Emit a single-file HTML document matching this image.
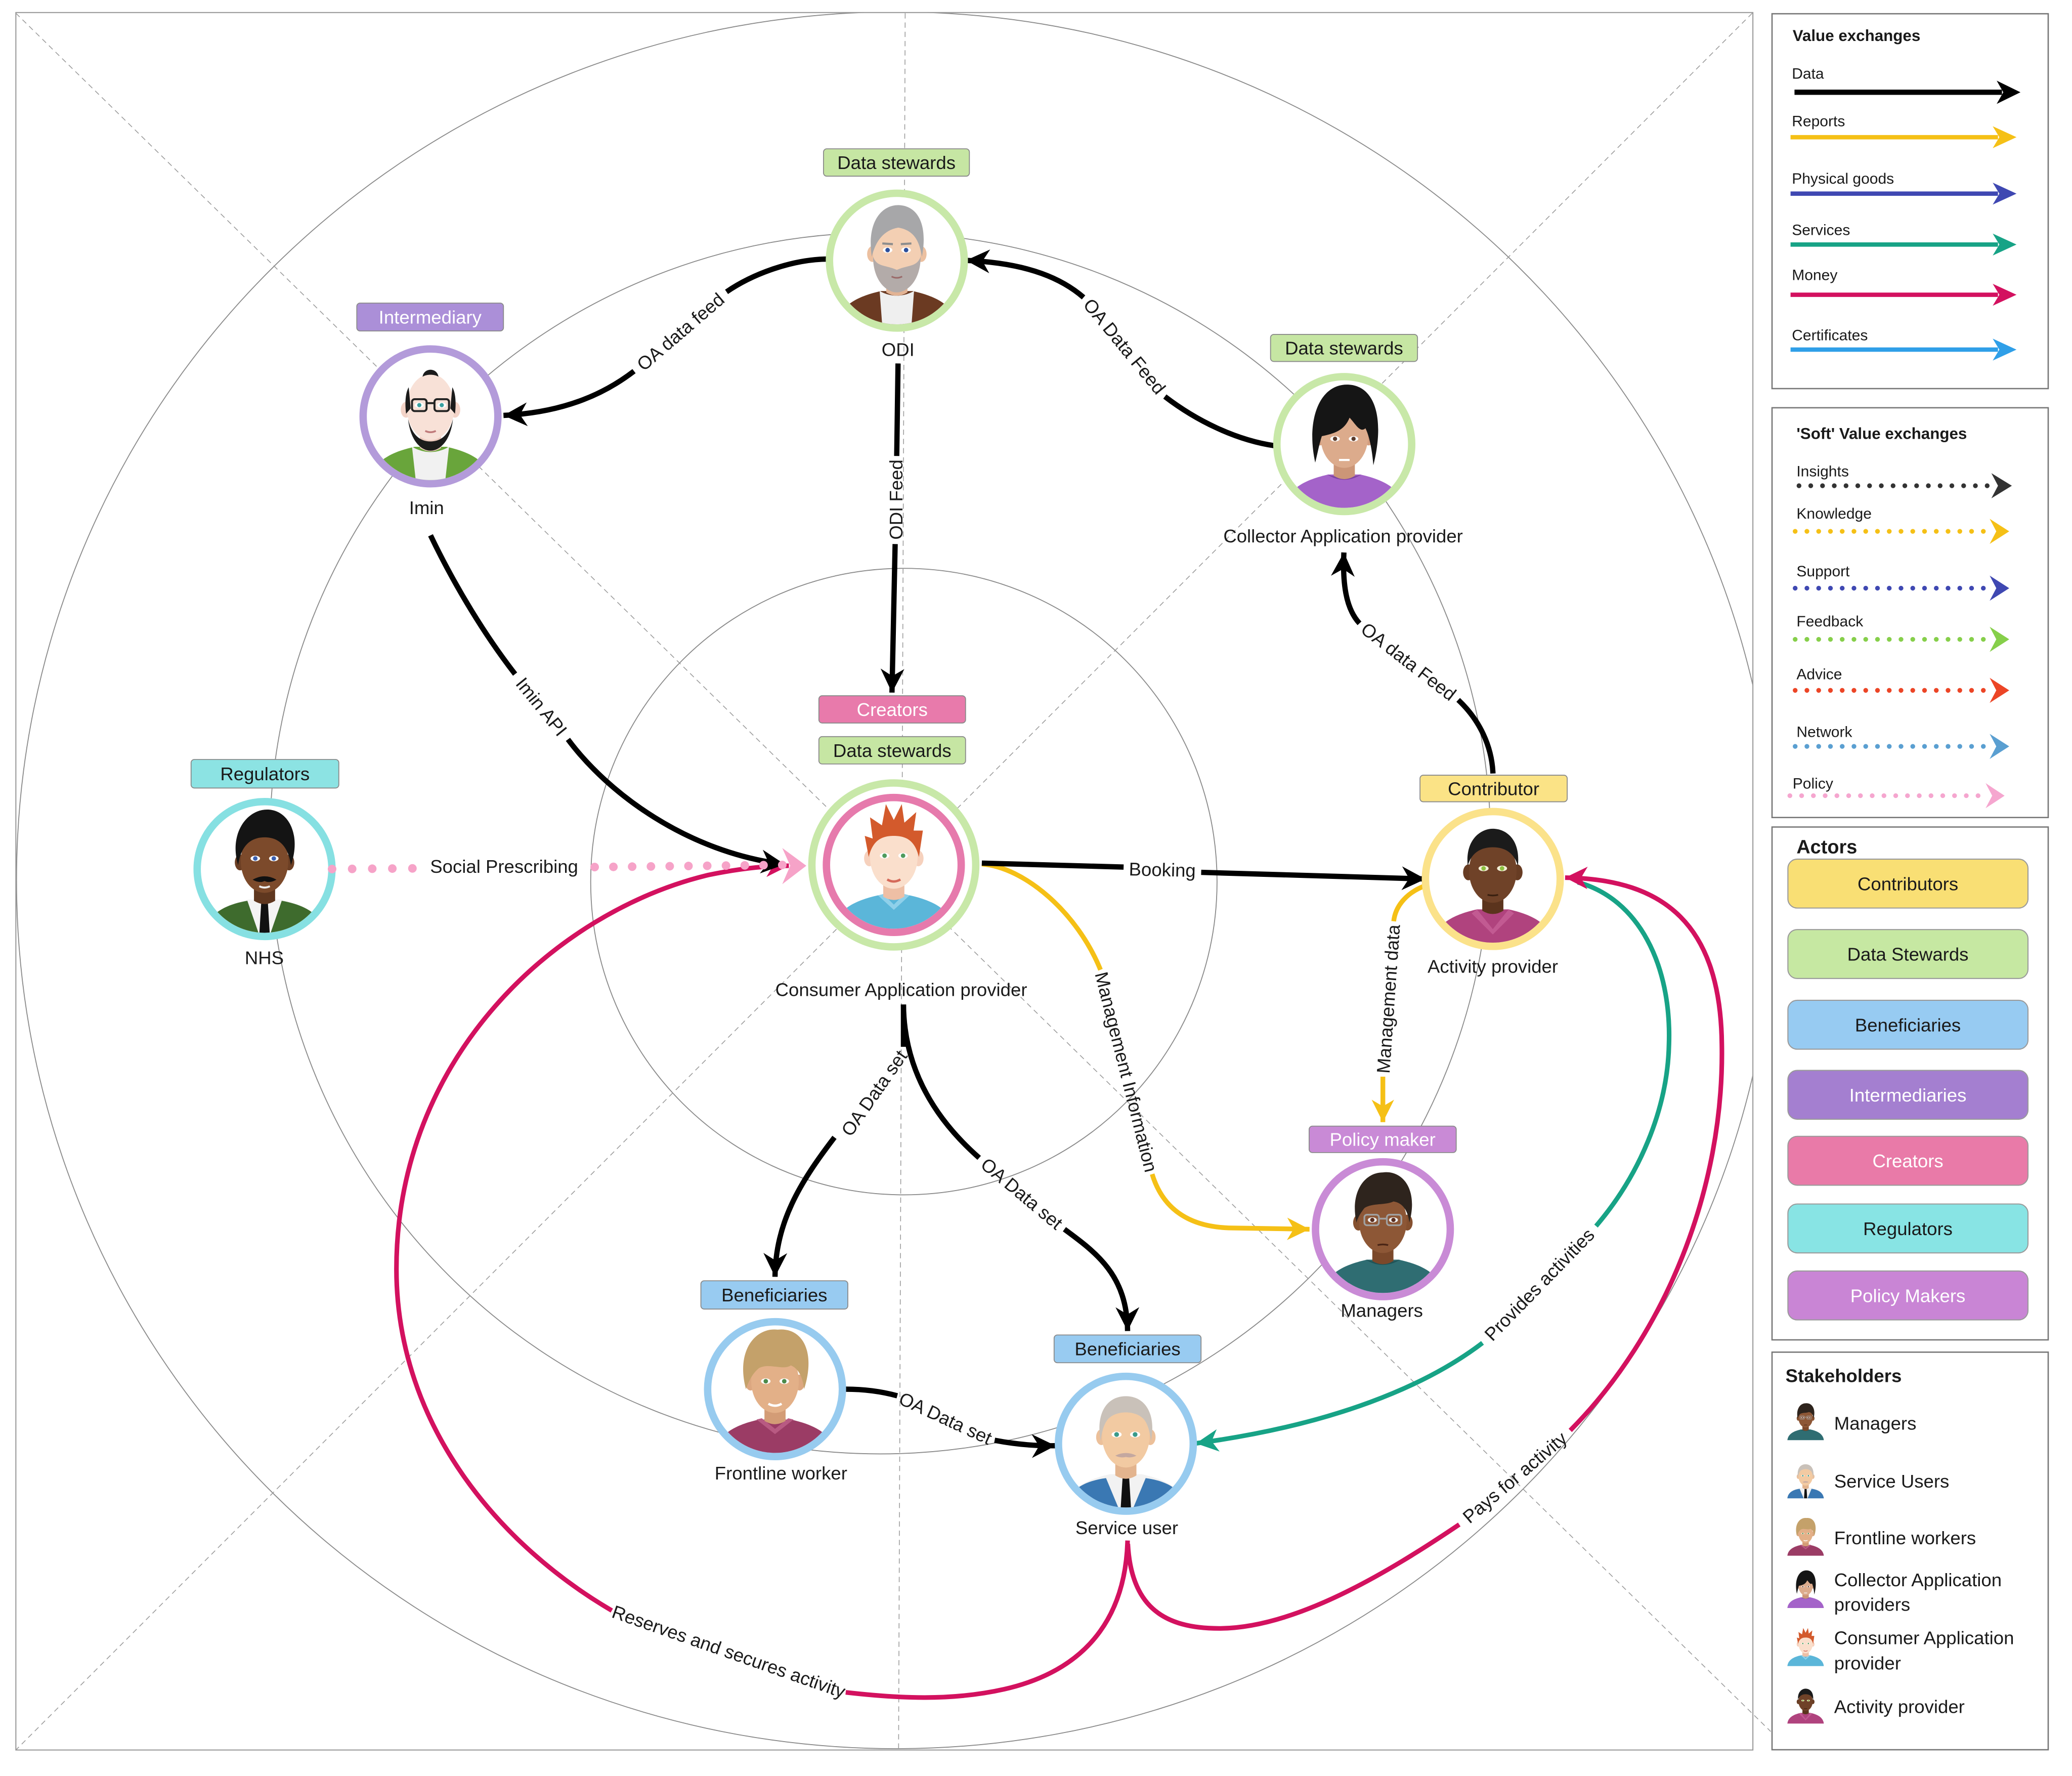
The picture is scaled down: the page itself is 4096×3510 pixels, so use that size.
<!DOCTYPE html>
<html><head><meta charset="utf-8"><style>
html,body{margin:0;padding:0;background:#fff;}
svg{display:block;}
text{font-family:"Liberation Sans",sans-serif;fill:#1a1a1a;}
</style></head><body>
<svg xmlns="http://www.w3.org/2000/svg" width="4096" height="3510" viewBox="0 0 1568 1343.67">
<defs>
<clipPath id="frameclip"><rect x="12" y="9.5" width="1314.5" height="1314.5"/></clipPath>
<clipPath id="cc"><circle cx="0" cy="0" r="48.2"/></clipPath>
<marker id="mk" markerUnits="userSpaceOnUse" viewBox="-20 -11 22 22" markerWidth="22" markerHeight="22" refX="0" refY="0" orient="auto" overflow="visible"><path d="M0,0 L-18,-9 L-12.5,0 L-18,9Z" fill="#000"/></marker>
<marker id="my" markerUnits="userSpaceOnUse" viewBox="-20 -11 22 22" markerWidth="22" markerHeight="22" refX="0" refY="0" orient="auto" overflow="visible"><path d="M0,0 L-17,-8.5 L-12,0 L-17,8.5Z" fill="#f5c016"/></marker>
<marker id="mt" markerUnits="userSpaceOnUse" viewBox="-20 -11 22 22" markerWidth="22" markerHeight="22" refX="0" refY="0" orient="auto" overflow="visible"><path d="M0,0 L-17,-8.5 L-12,0 L-17,8.5Z" fill="#17a386"/></marker>
<marker id="mc" markerUnits="userSpaceOnUse" viewBox="-20 -11 22 22" markerWidth="22" markerHeight="22" refX="0" refY="0" orient="auto" overflow="visible"><path d="M0,0 L-17,-8.5 L-12,0 L-17,8.5Z" fill="#d3115f"/></marker>

<g id="a1">
<path d="M-46,50 C-44,34 -30,27 -12,23 L12,23 C30,27 44,34 46,50Z" fill="#6b3a22"/>
<path d="M-13,23 Q0,30 13,23 L11,50 L-11,50Z" fill="#efefef"/>
<path d="M-8,8 L-8,24 Q0,29 8,24 L8,8Z" fill="#e2b394"/>
<ellipse cx="-18.5" cy="-5" rx="4" ry="6" fill="#ecc0a0"/><ellipse cx="18.5" cy="-5" rx="4" ry="6" fill="#ecc0a0"/>
<ellipse cx="0" cy="-6" rx="18" ry="24" fill="#f3cfb3"/>
<path d="M-19,-3 C-23,-30 -11,-42 1,-42 C14,-42 24,-30 19,-3 C17,-15 13,-23 1,-25 C-10,-23 -16,-15 -19,-3Z" fill="#a7a7a9"/>
<path d="M-18,-3 C-18,15 -8,24 0,24 C8,24 18,15 18,-3 C15,5 9,3 0,7 C-9,3 -15,5 -18,-3Z" fill="#b3aba9"/>
<ellipse cx="-7" cy="-8" rx="3.6" ry="2.1" fill="#fff"/><ellipse cx="7" cy="-8" rx="3.6" ry="2.1" fill="#fff"/>
<circle cx="-7" cy="-8" r="1.7" fill="#2c4f9c"/><circle cx="7" cy="-8" r="1.7" fill="#2c4f9c"/>
<path d="M-11,-13 L-3,-12.5 M3,-12.5 L11,-13" stroke="#8d8d8d" stroke-width="1.6"/>
<path d="M-4,12 Q0,14 4,12" stroke="#9a6a6a" stroke-width="1.2" fill="none"/>
</g>

<g id="a2">
<path d="M-46,50 C-44,34 -30,27 -12,23 L12,23 C30,27 44,34 46,50Z" fill="#69a53b"/>
<path d="M-14,23 Q0,31 14,23 L11,50 L-11,50Z" fill="#f1f1f1"/>
<path d="M-8,8 L-8,24 Q0,29 8,24 L8,8Z" fill="#ecc9bd"/>
<ellipse cx="-18.5" cy="-5" rx="4" ry="6" fill="#f3d3c7"/><ellipse cx="18.5" cy="-5" rx="4" ry="6" fill="#f3d3c7"/>
<ellipse cx="0" cy="-7" rx="18" ry="25" fill="#f8e1d7"/>
<path d="M-18.5,-2 C-19.5,-10 -19,-18 -16.5,-22 L-15,-6Z M18.5,-2 C19.5,-10 19,-18 16.5,-22 L15,-6Z" fill="#1b1b1b"/>
<path d="M-6,-30 C-5,-37 5,-37 6,-30 C3,-32 -3,-32 -6,-30Z" fill="#1b1b1b"/>
<path d="M-17,2 C-15,20 -6,26 0,26 C6,26 15,20 17,2 C14,14 8,19 0,19 C-8,19 -14,14 -17,2Z" fill="#1b1b1b"/>
<ellipse cx="-8.5" cy="-8.5" rx="3.4" ry="2" fill="#fff"/><ellipse cx="8.5" cy="-8.5" rx="3.4" ry="2" fill="#fff"/>
<circle cx="-8.5" cy="-8.5" r="1.6" fill="#3aa0a0"/><circle cx="8.5" cy="-8.5" r="1.6" fill="#3aa0a0"/>
<g fill="none" stroke="#222" stroke-width="1.5"><rect x="-14" y="-13" width="11" height="9" rx="2"/><rect x="3" y="-13" width="11" height="9" rx="2"/><path d="M-3,-10 L3,-10"/></g>
<path d="M-4,11 Q0,13 4,11" stroke="#c07a7a" stroke-width="1.4" fill="none"/>
</g>

<g id="a3">
<path d="M-46,50 C-44,34 -30,27 -12,23 L12,23 C30,27 44,34 46,50Z" fill="#f4f4f4"/>
<path d="M-46,50 C-44,34 -30,27 -13,24 L-4,50Z M46,50 C44,34 30,27 13,24 L4,50Z" fill="#3e6b2d"/>
<path d="M-2.5,25 L2.5,25 L4,50 L-4,50Z" fill="#111"/>
<path d="M-8,8 L-8,24 Q0,29 8,24 L8,8Z" fill="#5f371f"/>
<ellipse cx="-18.5" cy="-5" rx="4" ry="6" fill="#6c3f24"/><ellipse cx="18.5" cy="-5" rx="4" ry="6" fill="#6c3f24"/>
<ellipse cx="0" cy="-6" rx="18" ry="24" fill="#7c4a2b"/>
<path d="M-20,-3 C-27,-26 -14,-45 2,-45 C18,-45 28,-26 20,-3 C18,-16 12,-24 0,-24 C-12,-24 -18,-16 -20,-3Z" fill="#141414"/>
<ellipse cx="-7" cy="-8" rx="3.6" ry="2.1" fill="#fff"/><ellipse cx="7" cy="-8" rx="3.6" ry="2.1" fill="#fff"/>
<circle cx="-7" cy="-8" r="1.7" fill="#3a5fb0"/><circle cx="7" cy="-8" r="1.7" fill="#3a5fb0"/>
<path d="M-9,8 Q0,3 9,8 Q4,11 0,9 Q-4,11 -9,8Z" fill="#111"/>
<path d="M-4,13 Q0,15 4,13" stroke="#eee" stroke-width="1.5" fill="none"/>
</g>

<g id="a4">
<path d="M-46,50 C-44,34 -30,27 -12,23 L12,23 C30,27 44,34 46,50Z" fill="#5bb6d9"/>
<path d="M-12,23 L0,34 L12,23 L8,22 L0,30 L-8,22Z" fill="#8fd0ea"/>
<path d="M-8,8 L-8,24 Q0,29 8,24 L8,8Z" fill="#eebfa5"/>
<ellipse cx="-18.5" cy="-5" rx="4" ry="6" fill="#f6d1bd"/><ellipse cx="18.5" cy="-5" rx="4" ry="6" fill="#f6d1bd"/>
<ellipse cx="0" cy="-6" rx="18" ry="24" fill="#fadfcc"/>
<path d="M-19,-6 L-22,-22 L-16,-20 L-18,-36 L-9,-30 L-6,-46 L0,-34 L6,-46 L8,-32 L17,-40 L15,-26 L22,-26 L19,-6 C16,-18 10,-22 0,-22 C-10,-22 -16,-18 -19,-6Z" fill="#d35a2c"/>
<ellipse cx="-7" cy="-7" rx="3.6" ry="2.1" fill="#fff"/><ellipse cx="7" cy="-7" rx="3.6" ry="2.1" fill="#fff"/>
<circle cx="-7" cy="-7" r="1.7" fill="#4f9b5d"/><circle cx="7" cy="-7" r="1.7" fill="#4f9b5d"/>
<path d="M-5,11 Q0,14 5,11" stroke="#d56a5a" stroke-width="1.8" fill="none"/>
</g>

<g id="a5">
<path d="M-46,50 C-44,34 -30,27 -12,23 L12,23 C30,27 44,34 46,50Z" fill="#a463c9"/>
<path d="M-13,23 Q0,31 13,23 Q0,27 -13,23Z" fill="#7e45a3"/>
<path d="M-8,8 L-8,24 Q0,29 8,24 L8,8Z" fill="#cc9677"/>
<ellipse cx="-18.5" cy="-5" rx="4" ry="6" fill="#d49f80"/><ellipse cx="18.5" cy="-5" rx="4" ry="6" fill="#d49f80"/>
<ellipse cx="0" cy="-6" rx="18" ry="24" fill="#dcab8c"/>
<path d="M-22,14 C-29,-18 -19,-45 2,-45 C23,-45 31,-20 22,16 C21,4 19,-6 16,-12 C12,-8 8,-16 4,-20 C0,-10 -8,-8 -17,-6 C-19,0 -20,6 -22,14Z" fill="#151515"/>
<ellipse cx="-7" cy="-4" rx="3.6" ry="2" fill="#fff"/><ellipse cx="7" cy="-4" rx="3.6" ry="2" fill="#fff"/>
<circle cx="-7" cy="-4" r="1.6" fill="#5a3a2a"/><circle cx="7" cy="-4" r="1.6" fill="#5a3a2a"/>
<path d="M-4,12 L4,12" stroke="#fff" stroke-width="1.6"/>
</g>

<g id="a6">
<path d="M-46,50 C-44,34 -30,27 -12,23 L12,23 C30,27 44,34 46,50Z" fill="#b0437e"/>
<path d="M-12,23 L0,38 L12,23 L16,26 L0,42 L-16,26Z" fill="#c25a92"/>
<path d="M-8,8 L-8,24 Q0,29 8,24 L8,8Z" fill="#5b341d"/>
<ellipse cx="-18.5" cy="-5" rx="4" ry="6" fill="#673c23"/><ellipse cx="18.5" cy="-5" rx="4" ry="6" fill="#673c23"/>
<ellipse cx="0" cy="-6" rx="18" ry="24" fill="#6f4228"/>
<path d="M-19,-10 C-21,-30 -9,-38 0,-38 C10,-38 21,-30 19,-10 C16,-20 9,-24 0,-24 C-9,-24 -16,-20 -19,-10Z" fill="#1b1b1b"/>
<ellipse cx="-7" cy="-8" rx="3.8" ry="2.1" fill="#f4f0d8"/><ellipse cx="7" cy="-8" rx="3.8" ry="2.1" fill="#f4f0d8"/>
<circle cx="-7" cy="-8" r="1.7" fill="#8cc040"/><circle cx="7" cy="-8" r="1.7" fill="#8cc040"/>
<path d="M-4,12 Q0,13 4,12" stroke="#3a2010" stroke-width="1.3" fill="none"/>
</g>

<g id="a7">
<path d="M-46,50 C-44,34 -30,27 -12,23 L12,23 C30,27 44,34 46,50Z" fill="#2f6d72"/>
<path d="M-13,23 Q0,31 13,23 Q0,27 -13,23Z" fill="#1f5256"/>
<path d="M-8,8 L-8,24 Q0,29 8,24 L8,8Z" fill="#7b482a"/>
<ellipse cx="-18.5" cy="-5" rx="4" ry="6" fill="#85502f"/><ellipse cx="18.5" cy="-5" rx="4" ry="6" fill="#85502f"/>
<ellipse cx="0" cy="-6" rx="18" ry="24" fill="#8d5736"/>
<path d="M-20,-5 C-25,-28 -14,-43 0,-43 C15,-45 27,-30 20,-5 C19,-14 15,-20 8,-21 C2,-18 -8,-20 -14,-16 C-17,-12 -19,-9 -20,-5Z" fill="#2e241d"/>
<ellipse cx="-8" cy="-7" rx="3.4" ry="2" fill="#eee"/><ellipse cx="8" cy="-7" rx="3.4" ry="2" fill="#eee"/>
<circle cx="-8" cy="-7" r="1.6" fill="#5a2e20"/><circle cx="8" cy="-7" r="1.6" fill="#5a2e20"/>
<g fill="none" stroke="#a0a0a0" stroke-width="1.3"><rect x="-14" y="-11" width="11" height="8" rx="2"/><rect x="3" y="-11" width="11" height="8" rx="2"/><path d="M-3,-8 L3,-8"/></g>
<path d="M-4,12 Q0,11 4,12" stroke="#4a2515" stroke-width="1.3" fill="none"/>
</g>

<g id="a8">
<path d="M-46,50 C-44,34 -30,27 -12,23 L12,23 C30,27 44,34 46,50Z" fill="#9b3c65"/>
<path d="M-14,23 L0,34 L14,23 L10,22 L0,30 L-10,22Z" fill="#b85a82"/>
<path d="M-8,8 L-8,24 Q0,29 8,24 L8,8Z" fill="#d39c76"/>
<ellipse cx="-18.5" cy="-5" rx="4" ry="6" fill="#dca780"/><ellipse cx="18.5" cy="-5" rx="4" ry="6" fill="#dca780"/>
<ellipse cx="0" cy="-6" rx="18" ry="24" fill="#e3b088"/>
<path d="M-22,0 C-30,-30 -14,-47 2,-45 C21,-47 31,-28 22,0 C21,-10 17,-16 12,-18 C6,-14 -4,-20 -12,-16 C-17,-12 -20,-6 -22,0Z" fill="#c4a16a"/>
<ellipse cx="-7" cy="-6" rx="3.6" ry="2.1" fill="#fff"/><ellipse cx="7" cy="-6" rx="3.6" ry="2.1" fill="#fff"/>
<circle cx="-7" cy="-6" r="1.7" fill="#4d8a4a"/><circle cx="7" cy="-6" r="1.7" fill="#4d8a4a"/>
<path d="M-5,11 Q0,14 5,11" stroke="#fff" stroke-width="1.8" fill="none"/>
</g>

<g id="a9">
<path d="M-46,50 C-44,34 -30,27 -12,23 L12,23 C30,27 44,34 46,50Z" fill="#f2f2f2"/>
<path d="M-46,50 C-44,34 -30,28 -15,26 L-5,50Z M46,50 C44,34 30,28 15,26 L5,50Z" fill="#3a78b3"/>
<path d="M-2.5,26 L2.5,26 L4,50 L-4,50Z" fill="#111"/>
<path d="M-8,8 L-8,24 Q0,29 8,24 L8,8Z" fill="#e3b48e"/>
<ellipse cx="-18.5" cy="-5" rx="4" ry="6" fill="#ecc09a"/><ellipse cx="18.5" cy="-5" rx="4" ry="6" fill="#ecc09a"/>
<ellipse cx="0" cy="-6" rx="18" ry="24" fill="#f2caa2"/>
<path d="M-19,-2 C-23,-22 -15,-36 0,-36 C15,-36 23,-22 19,-2 C18,-12 15,-18 12,-20 C6,-25 -6,-25 -12,-20 C-15,-18 -18,-12 -19,-2Z" fill="#c9c1b9"/>
<ellipse cx="-7" cy="-7" rx="3.8" ry="2.2" fill="#fff"/><ellipse cx="7" cy="-7" rx="3.8" ry="2.2" fill="#fff"/>
<circle cx="-7" cy="-7" r="1.8" fill="#3a9a8a"/><circle cx="7" cy="-7" r="1.8" fill="#3a9a8a"/>
<path d="M-8,9 Q0,5 8,9 Q4,11 0,10 Q-4,11 -8,9Z" fill="#c4a8a0"/>
</g>
</defs>

<!-- background structure -->
<g fill="none" stroke="#8a8a8a" stroke-width="0.7">
<ellipse cx="678" cy="666" rx="665.5" ry="657" clip-path="url(#frameclip)"/>
<circle cx="666" cy="638" r="462"/>
<circle cx="684" cy="667" r="237"/>
</g>
<g stroke="#9a9a9a" stroke-width="0.6" stroke-dasharray="4 3" fill="none">
<line x1="12" y1="10" x2="1340" y2="1310"/>
<line x1="1326" y1="10" x2="12" y2="1324"/>
<line x1="685" y1="10" x2="680" y2="1324"/>
</g>
<rect x="12" y="9.5" width="1314.5" height="1314.5" fill="none" stroke="#999" stroke-width="0.8"/>

<!-- connectors -->
<g fill="none" stroke-linecap="butt">
<g stroke="#f5c016" stroke-width="3.6">
<path d="M743,653.7 C775,656 815,690 832.8,733.7"/>
<path d="M871.9,888.3 C880,915 900,928 930,929 L991,930" marker-end="url(#my)"/>
<path d="M1078.8,670 C1065,675 1056,685 1054.7,697"/>
<path d="M1046.5,814.6 L1046.5,849" marker-end="url(#my)"/>
</g>
<g stroke="#17a386" stroke-width="3.5">
<path d="M1194,667.5 C1240,680 1265,730 1263,790 C1262,840 1240,890 1207.8,927.6"/>
<path d="M1121.9,1016 C1080,1048 1010,1078 905,1092" marker-end="url(#mt)"/>
</g>
<g stroke="#d3115f" stroke-width="3.5">
<path d="M853.3,1165.5 C852,1215 830,1262 760,1278 C720,1287 680,1285 640,1280.4"/>
<path d="M463,1218.5 C380,1170 300,1080 300,960 C300,800 420,690 536,662 C560,657 580,655 597,655" marker-end="url(#mc)"/>
<path d="M853.5,1168 C856,1215 880,1232 922.6,1232 C980,1232 1050,1190 1104.3,1153.4"/>
<path d="M1188.3,1082.2 C1260,1010 1305,900 1303,790 C1302,700 1260,665 1184.4,664" marker-end="url(#mc)"/>
</g>
<g stroke="#000" stroke-width="4">
<path d="M627,196 C600,196 570,207 549.8,220.8"/>
<path d="M479.8,280.8 C460,296 430,312 381,314.3" marker-end="url(#mk)"/>
<path d="M965,337.3 C935,333 905,318 881.5,300"/>
<path d="M820,225 C805,212 780,199 731,197" marker-end="url(#mk)"/>
<path d="M679.6,275 L678.6,345"/>
<path d="M677.4,411.6 L675,524" marker-end="url(#mk)"/>
<path d="M325.8,405 C345,445 368,482 389.8,510"/>
<path d="M429.8,559.4 C460,600 520,645 594,654" marker-end="url(#mk)"/>
<path d="M743,653 L850.3,656"/>
<path d="M909,660 L1078.8,665" marker-end="url(#mk)"/>
<path d="M683.7,760 L683.7,792"/>
<path d="M631.5,860.5 C605,895 587,925 586.5,966" marker-end="url(#mk)"/>
<path d="M683.7,760 C684,800 700,840 741,876"/>
<path d="M805.5,930 C830,948 853,965 853.3,1007" marker-end="url(#mk)"/>
<path d="M640,1051 C655,1051 668,1053 679,1056"/>
<path d="M752.7,1089.7 C770,1093 785,1094 798.8,1093.8" marker-end="url(#mk)"/>
<path d="M1129.8,585.2 C1129,565 1120,545 1103.5,529.5"/>
<path d="M1028.8,471.6 C1018,460 1016,440 1017,418" marker-end="url(#mk)"/>
</g>
</g>

<!-- connector labels -->
<g font-size="14" text-anchor="middle">
<text transform="translate(515,251) rotate(-40.6)" dy="0.35em">OA data feed</text>
<text transform="translate(851,262) rotate(50.6)" dy="0.35em">OA Data Feed</text>
<text transform="translate(678,378) rotate(-90)" dy="0.35em">ODI Feed</text>
<text transform="translate(409.8,534.7) rotate(51)" dy="0.35em">Imin API</text>
<text x="381.5" y="655.4" dy="0.35em">Social Prescribing</text>
<text transform="translate(551.5,1249.5) rotate(19.3)" dy="0.35em">Reserves and secures activity</text>
<text transform="translate(1146.3,1117.8) rotate(-40.3)" dy="0.35em">Pays for activity</text>
<text transform="translate(1164.9,971.8) rotate(-45.8)" dy="0.35em">Provides activities</text>
<text transform="translate(879.6,658) rotate(1.3)" dy="0.35em">Booking</text>
<text transform="translate(852.3,811) rotate(75.8)" dy="0.35em">Management Information</text>
<text transform="translate(1050.6,755.8) rotate(-86)" dy="0.35em">Management data</text>
<text transform="translate(661.5,827) rotate(-55)" dy="0.35em">OA Data set</text>
<text transform="translate(773.3,903) rotate(39.9)" dy="0.35em">OA Data set</text>
<text transform="translate(715.5,1073) rotate(24.8)" dy="0.35em">OA Data set</text>
<text transform="translate(1066,500.5) rotate(37.8)" dy="0.35em">OA data Feed</text>
</g>

<!-- nodes -->
<g stroke-width="5.6">
<circle cx="678.7" cy="197.2" r="51" fill="#fff" stroke="#c8e8a8"/>
<circle cx="325.8" cy="315" r="51" fill="#fff" stroke="#b39bda"/>
<circle cx="200.2" cy="657.5" r="51" fill="#fff" stroke="#86e0e2"/>
<circle cx="676.4" cy="654.4" r="62" fill="#fff" stroke="#c8e8a8"/>
<circle cx="676.4" cy="654.4" r="51" fill="#fff" stroke="#e67aac"/>
<circle cx="1017.3" cy="336" r="51" fill="#fff" stroke="#c8e8a8"/>
<circle cx="1129.7" cy="665" r="51" fill="#fff" stroke="#fbe28a"/>
<circle cx="1046.5" cy="930" r="51" fill="#fff" stroke="#c98bd6"/>
<circle cx="586.5" cy="1051" r="51" fill="#fff" stroke="#97cbef"/>
<circle cx="852" cy="1092.3" r="51" fill="#fff" stroke="#97cbef"/>
</g>
<g transform="translate(678.7,197.2)" clip-path="url(#cc)"><use href="#a1"/></g>
<g transform="translate(325.8,315)" clip-path="url(#cc)"><use href="#a2"/></g>
<g transform="translate(200.2,657.5)" clip-path="url(#cc)"><use href="#a3"/></g>
<g transform="translate(676.4,654.4)" clip-path="url(#cc)"><use href="#a4"/></g>
<g transform="translate(1017.3,336)" clip-path="url(#cc)"><use href="#a5"/></g>
<g transform="translate(1129.7,665)" clip-path="url(#cc)"><use href="#a6"/></g>
<g transform="translate(1046.5,930)" clip-path="url(#cc)"><use href="#a7"/></g>
<g transform="translate(586.5,1051)" clip-path="url(#cc)"><use href="#a8"/></g>
<g transform="translate(852,1092.3)" clip-path="url(#cc)"><use href="#a9"/></g>

<!-- pink dotted social prescribing (on top) -->
<g stroke="#f6a3c8" stroke-width="6.5" stroke-linecap="round" fill="none">
<path d="M251.3,657.5 L313,657" stroke-dasharray="0 15.2"/>
<path d="M450,656 L592,654.4" stroke-dasharray="0 14.2"/>
</g>
<polygon points="592,641.6 610.2,655 592,668.9 598,655" fill="#f6a3c8"/>

<!-- node label boxes -->
<g stroke="#8a8a8a" stroke-width="0.7">
<rect x="623.2" y="112.6" width="110.4" height="20.7" rx="2.5" fill="#c6e6a3"/>
<rect x="270" y="229.3" width="111" height="21.1" rx="2.5" fill="#ab8fd8"/>
<rect x="144.6" y="574.6" width="111.8" height="21.6" rx="2.5" fill="#8ce3e3"/>
<rect x="619.7" y="526.4" width="111" height="20.6" rx="2.5" fill="#e87aab"/>
<rect x="619.7" y="557.3" width="111" height="20.7" rx="2.5" fill="#c6e6a3"/>
<rect x="961.5" y="253" width="111.2" height="20.5" rx="2.5" fill="#c6e6a3"/>
<rect x="1074.6" y="586.5" width="111.4" height="20.1" rx="2.5" fill="#fbe386"/>
<rect x="990.7" y="852" width="111.3" height="20" rx="2.5" fill="#c98ad6"/>
<rect x="530.4" y="969" width="111.2" height="21.4" rx="2.5" fill="#98cbf1"/>
<rect x="797.7" y="1010" width="111.2" height="21" rx="2.5" fill="#98cbf1"/>
</g>
<g font-size="14" text-anchor="middle">
<text x="678.4" y="123" dy="0.35em">Data stewards</text>
<text x="325.5" y="239.9" dy="0.35em" style="fill:#fff">Intermediary</text>
<text x="200.5" y="585.4" dy="0.35em">Regulators</text>
<text x="675.2" y="536.7" dy="0.35em" style="fill:#fff">Creators</text>
<text x="675.2" y="567.7" dy="0.35em">Data stewards</text>
<text x="1017.1" y="263.3" dy="0.35em">Data stewards</text>
<text x="1130.3" y="596.6" dy="0.35em">Contributor</text>
<text x="1046.3" y="862" dy="0.35em" style="fill:#fff">Policy maker</text>
<text x="586" y="979.7" dy="0.35em">Beneficiaries</text>
<text x="853.3" y="1020.5" dy="0.35em">Beneficiaries</text>

<text x="679.6" y="264.5" dy="0.35em">ODI</text>
<text x="322.8" y="384" dy="0.35em">Imin</text>
<text x="200" y="724.5" dy="0.35em">NHS</text>
<text x="682" y="748.7" dy="0.35em">Consumer Application provider</text>
<text x="1016.4" y="405.5" dy="0.35em">Collector Application provider</text>
<text x="1129.7" y="731" dy="0.35em">Activity provider</text>
<text x="1045.7" y="991.4" dy="0.35em">Managers</text>
<text x="591" y="1114.4" dy="0.35em">Frontline worker</text>
<text x="852.7" y="1155.7" dy="0.35em">Service user</text>
</g>

<!-- LEGEND -->
<g fill="#fff" stroke="#777" stroke-width="1">
<rect x="1341" y="10.4" width="209" height="283.6"/>
<rect x="1341" y="308.5" width="209" height="310"/>
<rect x="1341" y="625.7" width="209" height="388"/>
<rect x="1341" y="1023" width="209" height="300.8"/>
</g>

<text x="1356.6" y="31" font-size="12" font-weight="bold">Value exchanges</text>
<g font-size="11.5">
<text x="1356" y="59.5">Data</text>
<text x="1356" y="95.5">Reports</text>
<text x="1356" y="139">Physical goods</text>
<text x="1356" y="177.8">Services</text>
<text x="1356" y="211.8">Money</text>
<text x="1356" y="257.5">Certificates</text>
</g>
<line x1="1358" y1="69.8" x2="1515" y2="69.8" stroke="#000" stroke-width="4"/>
<polygon points="1529,69.8 1511,61 1516,69.8 1511,78.6" fill="#000"/>
<line x1="1355" y1="103.8" x2="1512" y2="103.8" stroke="#f5c016" stroke-width="3.3"/>
<polygon points="1526,103.8 1508,95.5 1513,103.8 1508,112.1" fill="#f5c016"/>
<line x1="1355" y1="146.5" x2="1512" y2="146.5" stroke="#3f48b2" stroke-width="3.3"/>
<polygon points="1526,146.5 1508,138.2 1513,146.5 1508,154.8" fill="#3f48b2"/>
<line x1="1355" y1="185" x2="1512" y2="185" stroke="#17a386" stroke-width="3.3"/>
<polygon points="1526,185 1508,176.7 1513,185 1508,193.3" fill="#17a386"/>
<line x1="1355" y1="223" x2="1512" y2="223" stroke="#d3115f" stroke-width="3.3"/>
<polygon points="1526,223 1508,214.7 1513,223 1508,231.3" fill="#d3115f"/>
<line x1="1355" y1="264.5" x2="1512" y2="264.5" stroke="#2f9fe8" stroke-width="3.3"/>
<polygon points="1526,264.5 1508,256.2 1513,264.5 1508,272.8" fill="#2f9fe8"/>

<text x="1359.5" y="332" font-size="12" font-weight="bold">'Soft' Value exchanges</text>
<g font-size="11.5">
<text x="1359.5" y="360.4">Insights</text>
<text x="1359.5" y="392.4">Knowledge</text>
<text x="1359.5" y="436">Support</text>
<text x="1359.5" y="474">Feedback</text>
<text x="1359.5" y="514">Advice</text>
<text x="1359.5" y="557.6">Network</text>
<text x="1356.6" y="596.7">Policy</text>
</g>
<g stroke-width="3.6" stroke-linecap="round" stroke-dasharray="0 8.9">
<line x1="1361.4" y1="367.5" x2="1505" y2="367.5" stroke="#333"/>
<line x1="1358.5" y1="402" x2="1503" y2="402" stroke="#f5c016"/>
<line x1="1358.5" y1="445" x2="1503" y2="445" stroke="#3f48b2"/>
<line x1="1358.5" y1="483.7" x2="1503" y2="483.7" stroke="#86cf4a"/>
<line x1="1358.5" y1="522.3" x2="1503" y2="522.3" stroke="#ec4526"/>
<line x1="1358.5" y1="564.7" x2="1503" y2="564.7" stroke="#5a9fd1"/>
<line x1="1354.5" y1="602" x2="1500" y2="602" stroke="#f5a6cf"/>
</g>
<polygon points="1507,358 1522.5,367.5 1507,377 1512,367.5" fill="#333"/>
<polygon points="1505.7,392.5 1520.5,402 1505.7,411.5 1510.7,402" fill="#f5c016"/>
<polygon points="1505.7,435.5 1520.5,445 1505.7,454.5 1510.7,445" fill="#3f48b2"/>
<polygon points="1505.7,474.2 1520.5,483.7 1505.7,493.2 1510.7,483.7" fill="#86cf4a"/>
<polygon points="1505.7,512.8 1520.5,522.3 1505.7,531.8 1510.7,522.3" fill="#ec4526"/>
<polygon points="1505.7,555.2 1520.5,564.7 1505.7,574.2 1510.7,564.7" fill="#5a9fd1"/>
<polygon points="1502.6,592.5 1517,602 1502.6,611.5 1507.6,602" fill="#f5a6cf"/>

<text x="1359.5" y="645.6" font-size="14.5" font-weight="bold">Actors</text>
<g stroke="#9a9a9a" stroke-width="0.8">
<rect x="1353" y="650" width="181.7" height="37" rx="7" fill="#f9df74"/>
<rect x="1353" y="703.3" width="181.7" height="37" rx="7" fill="#c6e8a2"/>
<rect x="1353" y="756.8" width="181.7" height="37" rx="7" fill="#97cbf2"/>
<rect x="1353" y="809.8" width="181.7" height="37" rx="7" fill="#a47fd0"/>
<rect x="1353" y="859.7" width="181.7" height="37" rx="7" fill="#e97aa8"/>
<rect x="1353" y="910.9" width="181.7" height="37" rx="7" fill="#88e4e4"/>
<rect x="1353" y="961.6" width="181.7" height="37" rx="7" fill="#c985d5"/>
</g>
<g font-size="14" text-anchor="middle">
<text x="1443.8" y="673.5">Contributors</text>
<text x="1443.8" y="726.8">Data Stewards</text>
<text x="1443.8" y="780.3">Beneficiaries</text>
<text x="1443.8" y="833.3" style="fill:#fff">Intermediaries</text>
<text x="1443.8" y="883.2" style="fill:#fff">Creators</text>
<text x="1443.8" y="934.4">Regulators</text>
<text x="1443.8" y="985.1" style="fill:#fff">Policy Makers</text>
</g>

<text x="1351.2" y="1045.6" font-size="14" font-weight="bold">Stakeholders</text>
<use href="#a7" transform="translate(1366.4,1074.6) scale(0.3)"/>
<use href="#a9" transform="translate(1366.4,1118.6) scale(0.3)"/>
<use href="#a8" transform="translate(1366.4,1162) scale(0.3)"/>
<use href="#a5" transform="translate(1366.4,1201.6) scale(0.3)"/>
<use href="#a4" transform="translate(1366.4,1245.5) scale(0.3)"/>
<use href="#a6" transform="translate(1366.4,1289) scale(0.3)"/>
<g font-size="14">
<text x="1388" y="1081.6">Managers</text>
<text x="1388" y="1125.5">Service Users</text>
<text x="1388" y="1168.4">Frontline workers</text>
<text x="1388" y="1200.2">Collector Application</text>
<text x="1388" y="1218.7">providers</text>
<text x="1388" y="1244">Consumer Application</text>
<text x="1388" y="1263">provider</text>
<text x="1388" y="1296">Activity provider</text>
</g>
</svg>
</body></html>
